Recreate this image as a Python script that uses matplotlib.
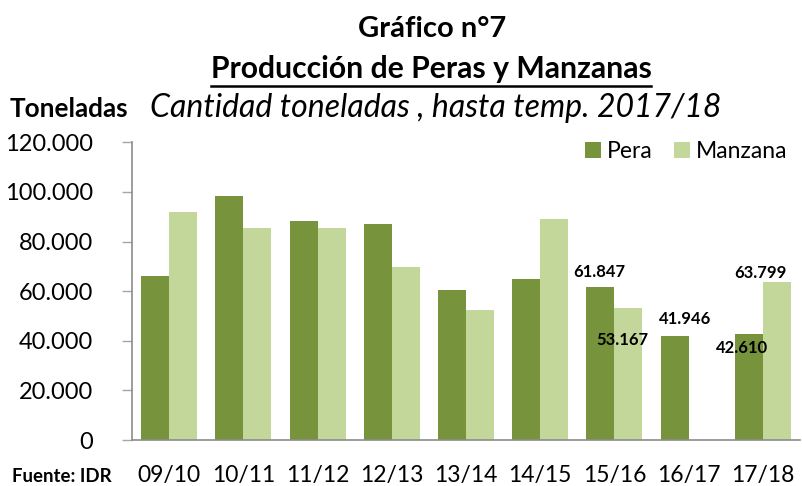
import matplotlib
matplotlib.use("Agg")
import matplotlib.pyplot as plt
from matplotlib.ticker import FuncFormatter
from matplotlib.lines import Line2D
import numpy as np

categories = ["09/10", "10/11", "11/12", "12/13", "13/14", "14/15", "15/16", "16/17", "17/18"]
pera = [66000, 98500, 88100, 86900, 60300, 64800, 61847, 41946, 42610]
manzana = [91800, 85400, 85300, 69700, 52400, 88900, 53167, np.nan, 63799]
# labelled values: (series, index, text)
labels = [("pera", 6, "61.847"), ("manzana", 6, "53.167"),
          ("pera", 7, "41.946"), ("pera", 8, "42.610"),
          ("manzana", 8, "63.799")]
label_offsets = [(-1, 15), (-6, -32), (10, 17), (-7, -14), (-16, 9)]

C_PERA = "#77933C"
C_MANZ = "#C4D79B"
FONT = "Lato"
plt.rcParams['font.family'] = [FONT, 'DejaVu Sans']

fig = plt.figure(figsize=(8.03, 4.86), dpi=100)
H = 486.0
ax = fig.add_axes([132/803, 1-440/H, 668/803, (440-142.3)/H])

x = np.arange(len(categories))
w = 0.377
ax.bar(x - w/2, pera, w, color=C_PERA, label="Pera")
ax.bar(x + w/2, manzana, w, color=C_MANZ, label="Manzana")

ax.set_xlim(-0.5, len(categories) - 0.5)
ax.set_ylim(0, 120000)
ax.set_yticks(np.arange(0, 120001, 20000))
ax.yaxis.set_major_formatter(FuncFormatter(lambda v, p: f"{int(v):,}".replace(",", ".")))
ax.set_xticks(x)
ax.set_xticklabels(categories)
ax.tick_params(axis='y', length=7, width=1, color="#a6a6a6", pad=21, labelsize=17, labelcolor="black")
ax.tick_params(axis='x', length=0, pad=18, labelsize=16.5)
for s in ["top", "right"]:
    ax.spines[s].set_visible(False)
for s in ["left", "bottom"]:
    ax.spines[s].set_color("#8c8c8c")
    ax.spines[s].set_linewidth(1.2)

for (ser, i, txt), (dx, dy) in zip(labels, label_offsets):
    if ser == "pera":
        xx, yy = x[i] - w/2, pera[i]
    else:
        xx, yy = x[i] + w/2, manzana[i]
    ax.annotate(txt, xy=(xx, yy), xytext=(dx, dy), textcoords="offset pixels",
                ha="center", va="center", fontsize=12, fontweight="bold", color="black")

leg = ax.legend(loc="upper right", bbox_to_anchor=(1.012, 1.075), ncol=2, frameon=False,
                fontsize=16.5, handlelength=0.7, handleheight=0.7, columnspacing=0.95,
                handletextpad=0.25)

fig.text(432/803, 1-37/H, "Gráfico n°7", ha="center", va="baseline", fontsize=21, fontweight="bold")
sub = fig.text(431/803, 1-78/H, "Producción de Peras y Manzanas", ha="center", va="baseline",
               fontsize=21.7, fontweight="bold")
fig.text(10/803, 1-117/H, "Toneladas", ha="left", va="baseline", fontsize=18.8, fontweight="bold")
fig.text(150/803, 1-117/H, "Cantidad toneladas , hasta temp. 2017/18", ha="left", va="baseline",
         fontsize=23, fontstyle="italic")
fig.text(12/803, 1-482/H, "Fuente: IDR", ha="left", va="baseline", fontsize=13.4, fontweight="bold")

fig.canvas.draw()
bb = sub.get_window_extent(renderer=fig.canvas.get_renderer())
inv = fig.transFigure.inverted()
(x0, _), (x1, _) = inv.transform([(bb.x0, bb.y0), (bb.x1, bb.y0)])
fig.add_artist(Line2D([x0, x1], [1-86/H, 1-86/H], color="black", linewidth=1.8,
                      transform=fig.transFigure))

fig.savefig("out.png", dpi=100)
